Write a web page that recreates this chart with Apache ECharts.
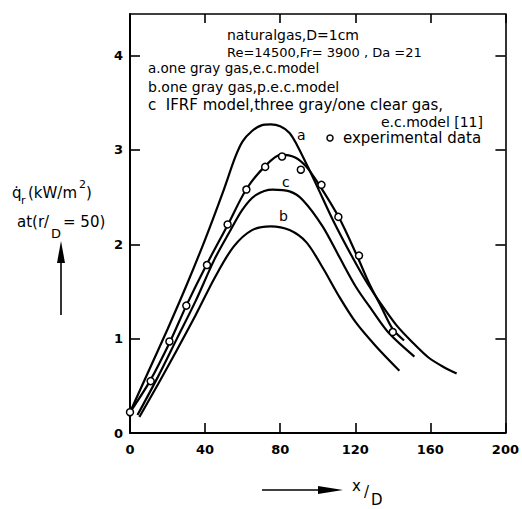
<!DOCTYPE html>
<html><head><meta charset="utf-8">
<script src="https://cdn.jsdelivr.net/npm/echarts@6/dist/echarts.min.js"></script>
<style>html,body{margin:0;padding:0;background:#fff}#c{width:522px;height:509px}</style>
</head><body><div id="c"></div>
<script>
// ---- data ----
const xTicks = [0, 40, 80, 120, 160, 200];
const yTicks = [0, 1, 2, 3, 4];

// curve a: one gray gas, e.c. model
const aX = [0, 10, 20, 30, 40, 50, 56, 60, 65, 70, 75, 80, 85, 89, 95, 100, 108, 118, 126, 135, 142, 150, 159, 167, 174];
const aY = [0.22, 0.66, 1.10, 1.56, 2.05, 2.58, 2.92, 3.09, 3.20, 3.26, 3.27, 3.25, 3.18, 3.05, 2.81, 2.60, 2.26, 1.88, 1.60, 1.33, 1.14, 0.97, 0.80, 0.70, 0.63];
// curve b: one gray gas, p.e.c. model
const bX = [5, 15, 25, 35, 45, 55, 65, 75, 85, 94, 103, 111, 120, 131, 143.5];
const bY = [0.17, 0.52, 0.88, 1.25, 1.64, 1.97, 2.15, 2.19, 2.15, 2.02, 1.74, 1.46, 1.18, 0.92, 0.66];
// curve c: IFRF model
const cX = [4, 15, 25, 35, 45, 53, 60, 67, 76, 85, 92, 102.6, 111.4, 120.3, 129, 137.9, 151.5];
const cY = [0.19, 0.60, 1.00, 1.40, 1.84, 2.13, 2.37, 2.52, 2.58, 2.56, 2.47, 2.19, 1.87, 1.55, 1.30, 1.06, 0.81];
// line drawn through the experimental data
const dX = [0, 10.6, 21.4, 30, 40.7, 52.2, 61.9, 71.6, 80.5, 88, 94, 100.8, 111.4, 121.1, 127.3, 134, 140, 146];
const dY = [0.22, 0.55, 0.97, 1.35, 1.78, 2.21, 2.58, 2.82, 2.95, 2.92, 2.82, 2.63, 2.28, 1.87, 1.59, 1.33, 1.10, 0.98];
// experimental data
const eX = [0, 11, 21, 30, 41, 52, 62, 72, 81, 91, 102, 111, 122, 140];
const eY = [0.22, 0.55, 0.97, 1.35, 1.78, 2.21, 2.58, 2.82, 2.93, 2.79, 2.63, 2.29, 1.88, 1.07];

// ---- chart ----
const F = 'DejaVu Sans';
const chart = echarts.init(document.getElementById('c'), null, {renderer: 'svg'});
const pair = (xs, ys) => xs.map((x, i) => [x, ys[i]]);
const curve = (name, xs, ys) => ({
  type: 'line', name, data: pair(xs, ys), smooth: 0.3,
  showSymbol: false, symbol: 'none', silent: true,
  lineStyle: {color: '#000', width: 2.2}
});
const T = (text, x, y, size, extra) => Object.assign({
  type: 'text', x, y, silent: true,
  style: Object.assign({text, fill: '#000', font: (size || 14) + 'px "' + F + '"', textAlign: 'left', textVerticalAlign: 'middle'}, (extra || {}))
});

const axisLineStyle = {color: '#000', width: 2};
const tickStyle = {color: '#000', width: 1.6};

chart.setOption({
  animation: false,
  backgroundColor: '#fff',
  grid: {left: 130, right: 15, top: 14, bottom: 76},
  xAxis: [
    {type: 'value', min: 0, max: 200, interval: 40, position: 'bottom',
     axisLine: {onZero: false, lineStyle: axisLineStyle},
     axisTick: {inside: true, length: 10, lineStyle: tickStyle},
     axisLabel: {color: '#000', fontFamily: F, fontWeight: 'bold', fontSize: 13, margin: 10},
     splitLine: {show: false}},
    {type: 'value', min: 0, max: 200, interval: 40, position: 'top',
     axisLine: {onZero: false, lineStyle: {color: '#000', width: 1.6}},
     axisTick: {inside: true, length: 9, lineStyle: tickStyle},
     axisLabel: {show: false}, splitLine: {show: false}}
  ],
  yAxis: [
    {type: 'value', min: 0, max: 4.44, interval: 1, position: 'left',
     axisLine: {onZero: false, lineStyle: axisLineStyle},
     axisTick: {inside: true, length: 10, lineStyle: tickStyle, customValues: yTicks},
     axisLabel: {color: '#000', fontFamily: F, fontWeight: 'bold', fontSize: 13, margin: 7, customValues: yTicks},
     splitLine: {show: false}},
    {type: 'value', min: 0, max: 4.44, interval: 1, position: 'right',
     axisLine: {onZero: false, lineStyle: {color: '#000', width: 1.6}},
     axisTick: {inside: true, length: 10, lineStyle: tickStyle, customValues: yTicks},
     axisLabel: {show: false}, splitLine: {show: false}}
  ],
  series: [
    curve('a', aX, aY),
    curve('b', bX, bY),
    curve('c', cX, cY),
    curve('fit', dX, dY),
    {type: 'scatter', name: 'experimental data', data: pair(eX, eY), symbol: 'circle', symbolSize: 7, silent: true, z: 5,
     itemStyle: {color: '#fff', opacity: 1, borderColor: '#000', borderWidth: 1.5}}
  ],
  graphic: [
    T('naturalgas,D=1cm', 227, 35),
    T('Re=14500,Fr= 3900 , Da =21', 227, 52, 13),
    T('a.one gray gas,e.c.model', 148, 68, 13.5),
    T('b.one gray gas,p.e.c.model', 148, 87),
    T('c  IFRF model,three gray/one clear gas,', 148, 105, 15),
    T('e.c.model [11]', 483, 122, 14, {textAlign: 'right'}),
    {type: 'circle', silent: true, shape: {cx: 330, cy: 138, r: 3}, style: {fill: '#fff', stroke: '#000', lineWidth: 1.5}},
    T('experimental data', 343, 138, 15),
    T('a', 297, 135, 14),
    T('c', 282, 182, 14),
    T('b', 279, 216, 14),
    // y title
    T('q\u0307', 12, 193, 15),
    T('r', 21, 200, 11),
    T('(kW/m', 28, 193, 15),
    T('2', 79, 184, 11),
    T(')', 86, 193, 15),
    T('at(r/', 17, 222, 15),
    T('D', 51, 233, 13),
    T('= 50)', 63, 222, 15),
    {type: 'line', silent: true, shape: {x1: 61, y1: 315, x2: 61, y2: 258}, style: {stroke: '#000', lineWidth: 1.6}},
    {type: 'polygon', silent: true, shape: {points: [[61, 241], [57, 263], [65, 263]]}, style: {fill: '#000'}},
    // x title
    {type: 'line', silent: true, shape: {x1: 262, y1: 490, x2: 322, y2: 490}, style: {stroke: '#000', lineWidth: 1.6}},
    {type: 'polygon', silent: true, shape: {points: [[343, 490], [318, 486], [318, 494]]}, style: {fill: '#000'}},
    T('x', 352, 486, 15),
    T('/', 364, 492, 15),
    T('D', 371, 500, 15)
  ]
});
</script>
</body></html>
